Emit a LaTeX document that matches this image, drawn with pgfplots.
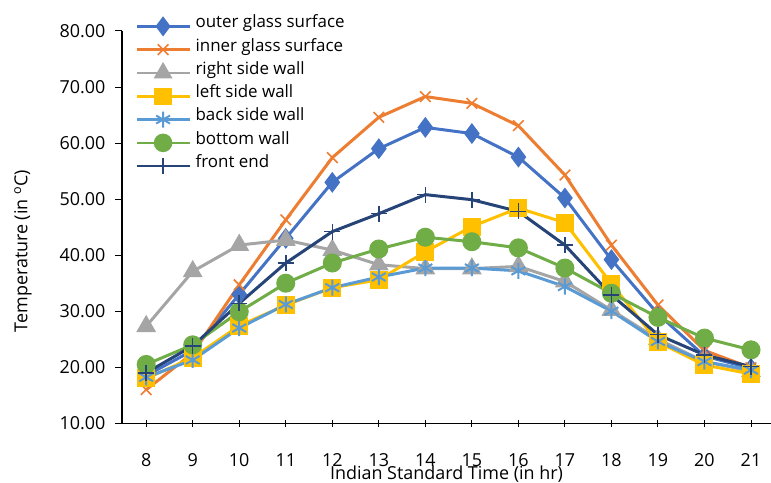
\documentclass[border=0pt]{standalone}
\usepackage{pgfplots}
\pgfplotsset{compat=1.18}
\usepackage{fontspec}
\setmainfont{Open Sans}

\definecolor{cOuter}{HTML}{4472C4}
\definecolor{cInner}{HTML}{ED7D31}
\definecolor{cRight}{HTML}{A5A5A5}
\definecolor{cLeft}{HTML}{FFC000}
\definecolor{cBack}{HTML}{5B9BD5}
\definecolor{cBottom}{HTML}{70AD47}
\definecolor{cFront}{HTML}{264478}

\pgfplotstableread{
hr outer inner right left back bottom front
8  18.5 16.0 27.3 18.0 18.2 20.5 19.0
9  23.0 22.5 37.1 21.7 21.3 24.0 23.8
10 33.0 34.7 41.8 27.4 27.0 29.9 31.4
11 43.0 46.3 42.7 31.1 31.2 35.0 38.6
12 53.0 57.4 40.9 34.2 34.2 38.6 44.2
13 59.0 64.6 38.3 35.6 36.1 41.1 47.4
14 62.8 68.3 37.6 40.6 37.7 43.2 50.8
15 61.7 67.1 37.6 45.1 37.7 42.4 49.9
16 57.5 63.1 38.0 48.4 37.2 41.3 47.8
17 50.2 54.3 35.3 45.8 34.4 37.7 41.8
18 39.2 41.8 30.2 34.9 30.0 33.2 32.9
19 29.5 31.1 25.0 24.5 24.6 28.9 25.8
20 22.0 23.0 21.0 20.4 21.0 25.2 22.2
21 19.8 19.9 19.3 18.8 19.5 23.1 20.1
}\temps

\begin{document}
\begin{tikzpicture}
\begin{axis}[
    scale only axis,
    width=649bp, height=392.3bp,
    xmin=7.48, xmax=21.43,
    ymin=10, ymax=80,
    xtick={8,...,21},
    ytick={10,20,...,80},
    axis x line*=bottom,
    axis y line*=left,
    axis line style={black, line width=1.3bp, -},
    tick style={black, line width=1bp},
    major tick length=7bp,
    xtick align=center,
    ytick align=outside,
    x tick label style={font=\fontsize{18}{20}\selectfont, yshift=-23bp},
    y tick label style={font=\fontsize{18}{20}\selectfont, xshift=-6bp},
    /pgf/number format/assume math mode=true,
    yticklabel={\pgfmathprintnumber[fixed, fixed zerofill, precision=2]{\tick}},
    xticklabel={\pgfmathprintnumber{\tick}},
    xlabel={Indian Standard Time (in hr)},
    xlabel style={font=\fontsize{18}{20}\selectfont, at={(axis description cs:0.5,0)}, anchor=center, yshift=-51bp},
    ylabel={Temperature (in \textsuperscript{o}C)},
    ylabel style={font=\fontsize{18}{20}\selectfont, at={(axis description cs:-0.1525,0.439)}, anchor=center},
    every axis plot/.append style={line width=3bp},
    legend cell align=left,
    legend style={
        draw=none, fill=none,
        at={(axis description cs:0.021,1.042)}, anchor=north west,
        font=\fontsize{17}{20}\selectfont,
        inner sep=0pt,
        row sep=0pt,
        nodes={inner sep=0pt, text height=13bp, text depth=10.3bp},
    },
    legend image code/.code={
        \draw[line width=2.5bp, mark repeat=2, mark phase=2]
            plot coordinates {(0bp,0bp) (26bp,0bp) (53bp,0bp)};
        \path (57bp,0bp);
    },
]
\addplot[color=cOuter, mark=diamond*, mark size=8bp, mark options={solid, fill=cOuter}] table[x=hr, y=outer] {\temps};
\addlegendentry{outer glass surface}
\addplot[color=cInner, mark=x, mark size=7.5bp, mark options={line width=1.6bp}] table[x=hr, y=inner] {\temps};
\addlegendentry{inner glass surface}
\addplot[color=cRight, mark=triangle*, mark size=8.5bp, mark options={fill=cRight}] table[x=hr, y=right] {\temps};
\addlegendentry{right side wall}
\addplot[color=cLeft, mark=square*, mark size=7.5bp, mark options={fill=cLeft}] table[x=hr, y=left] {\temps};
\addlegendentry{left side wall}
\addplot[color=cBack, mark=asterisk, mark size=8bp, mark options={line width=2bp}] table[x=hr, y=back] {\temps};
\addlegendentry{back side wall}
\addplot[color=cBottom, mark=*, mark size=8bp, mark options={fill=cBottom}] table[x=hr, y=bottom] {\temps};
\addlegendentry{bottom wall}
\addplot[color=cFront, mark=+, mark size=8bp, mark options={line width=1.5bp}] table[x=hr, y=front] {\temps};
\addlegendentry{front end}
\end{axis}
\pgfresetboundingbox
\path[use as bounding box] ([xshift=-122bp,yshift=-59.7bp]current axis.south west) rectangle ([yshift=31bp]current axis.north east);
\end{tikzpicture}
\end{document}
